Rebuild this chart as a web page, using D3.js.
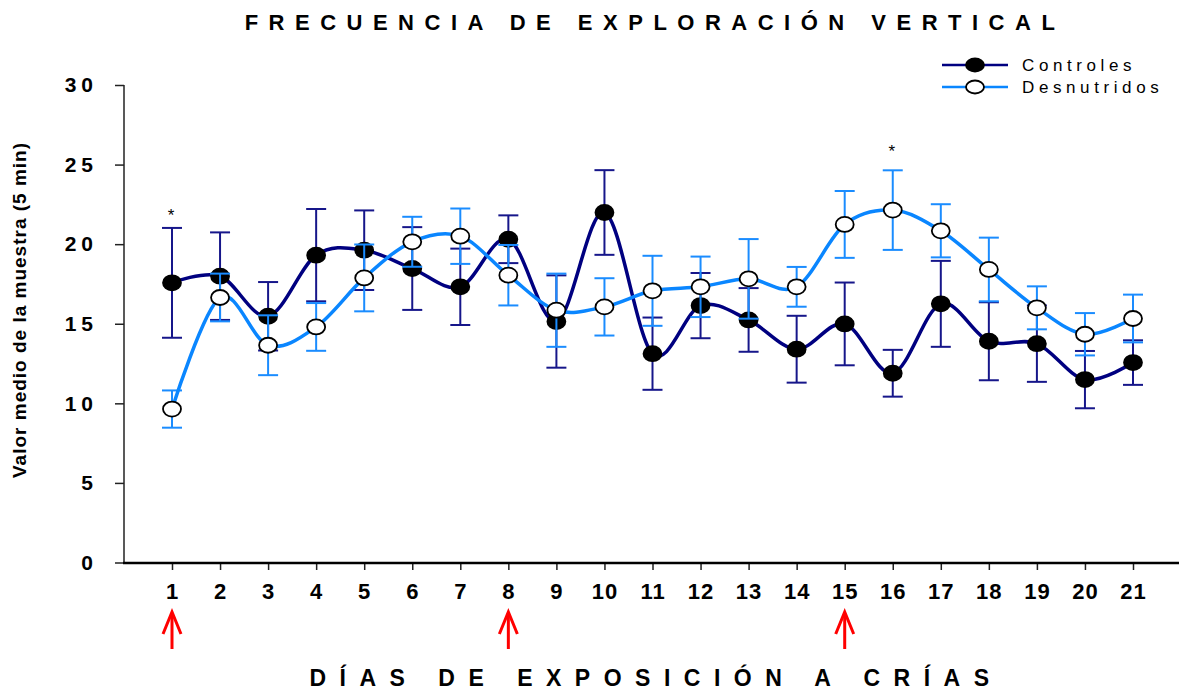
<!DOCTYPE html>
<html lang="es">
<head>
<meta charset="utf-8">
<script src="https://cdn.jsdelivr.net/npm/d3@7"></script>
<style>
  body { margin: 0; background: #fff; }
  svg { display: block; font-family: Arial, "Liberation Sans", sans-serif; }
</style>
</head>
<body>
<svg id="chart"></svg>
<script>
  var width = 1179;
  var height = 692;

  // datos
  var dias = [1, 2, 3, 4, 5, 6, 7, 8, 9, 10, 11, 12, 13, 14, 15, 16, 17, 18, 19, 20, 21];
  var controles = [17.57, 17.99, 15.47, 19.31, 19.62, 18.47, 17.32, 20.31, 15.14, 21.99, 13.12,
                   16.14, 15.24, 13.40, 14.99, 11.89, 16.25, 13.90, 13.75, 11.49, 12.56];
  var controlesErr = [3.45, 2.75, 2.15, 2.9, 2.5, 2.6, 2.4, 1.5, 2.9, 2.66, 2.27,
                      2.05, 2.0, 2.1, 2.6, 1.47, 2.7, 2.45, 2.4, 1.8, 1.4];
  var desnutridos = [9.64, 16.65, 13.65, 14.80, 17.88, 20.15, 20.50, 18.05, 15.85, 16.06, 17.07,
                     17.32, 17.82, 17.32, 21.24, 22.14, 20.84, 18.41, 16.00, 14.34, 15.33];
  var desnutridosErr = [1.17, 1.5, 1.88, 1.5, 2.1, 1.57, 1.74, 1.9, 2.3, 1.8, 2.2,
                        1.9, 2.5, 1.25, 2.1, 2.5, 1.67, 2.0, 1.35, 1.33, 1.5];
  var yTicks = [0, 5, 10, 15, 20, 25, 30];
  var flechas = [1, 8, 15];
  var asteriscos = [1, 16];
  var asteriscoY = [22.1, 26.1];

  var svg = d3.select('#chart').attr('width', width).attr('height', height);

  var x = d3.scaleLinear().domain([1, 21]).range([172, 1133]);
  var y = d3.scaleLinear().domain([0, 30]).range([562.5, 85]);

  // titulo
  svg.append('text')
    .attr('x', 655).attr('y', 30)
    .attr('text-anchor', 'middle')
    .style('font-size', '22px').style('font-weight', 'bold')
    .style('letter-spacing', '10.5px')
    .text('FRECUENCIA DE EXPLORACIÓN VERTICAL');

  // ejes
  var yAxis = svg.append('g')
    .attr('transform', 'translate(124,0)')
    .call(d3.axisLeft(y).tickValues(yTicks).tickSize(9).tickPadding(17).tickSizeOuter(0));
  yAxis.select('.domain').remove();
  yAxis.selectAll('.tick line').attr('stroke', '#222').attr('stroke-width', 1.5);
  yAxis.selectAll('.tick text')
    .style('font-size', '21px').style('font-weight', 'bold').style('letter-spacing', '5px')
    .attr('fill', '#000');
  svg.append('line')
    .attr('x1', 124).attr('x2', 124).attr('y1', 85).attr('y2', 563)
    .attr('stroke', '#222').attr('stroke-width', 1.5);

  var xAxis = svg.append('g')
    .attr('transform', 'translate(0,563)')
    .call(d3.axisBottom(x).tickValues(dias).tickFormat(d3.format('d')).tickSize(7).tickPadding(13).tickSizeOuter(0));
  xAxis.select('.domain').remove();
  xAxis.selectAll('.tick line').attr('stroke', '#222').attr('stroke-width', 1.5);
  xAxis.selectAll('.tick text')
    .style('font-size', '22px').style('font-weight', 'bold').style('letter-spacing', '1px')
    .attr('fill', '#000');
  svg.append('line')
    .attr('x1', 123).attr('x2', width).attr('y1', 563).attr('y2', 563)
    .attr('stroke', '#000').attr('stroke-width', 2.5);

  svg.append('text')
    .attr('transform', 'translate(26,310) rotate(-90)')
    .attr('text-anchor', 'middle')
    .style('font-size', '19px').style('font-weight', 'bold').style('letter-spacing', '1px')
    .text('Valor medio de la muestra (5 min)');

  svg.append('text')
    .attr('x', 656).attr('y', 686)
    .attr('text-anchor', 'middle')
    .style('font-size', '23px').style('font-weight', 'bold')
    .style('letter-spacing', '13.5px')
    .text('DÍAS DE EXPOSICIÓN A CRÍAS');

  // flechas rojas
  var fl = svg.append('g').selectAll('g').data(flechas).enter().append('g')
    .attr('transform', function(d) { return 'translate(' + x(d) + ',0)'; });
  fl.append('line').attr('x1', 0).attr('x2', 0).attr('y1', 614).attr('y2', 649)
    .attr('stroke', '#ff0000').attr('stroke-width', 3);
  fl.append('path').attr('d', 'M-9,634 L0,612 L9,634')
    .attr('fill', 'none').attr('stroke', '#ff0000').attr('stroke-width', 3);

  // asteriscos
  svg.append('g').selectAll('text').data(asteriscos).enter().append('text')
    .attr('x', function(d) { return x(d) - 1; })
    .attr('y', function(d, i) { return y(asteriscoY[i]) + 10; })
    .attr('text-anchor', 'middle')
    .style('font-size', '17px')
    .text('*');

  var curva = d3.curveCardinal.tension(0);

  function serie(vals, errs, lineColor, barColor, fill) {
    var g = svg.append('g');
    var pts = dias.map(function(d, i) { return { d: d, v: vals[i], e: errs[i] }; });

    var eb = g.selectAll('g.eb').data(pts).enter().append('g')
      .attr('stroke', barColor).attr('stroke-width', 2);
    eb.append('line')
      .attr('x1', function(p) { return x(p.d); }).attr('x2', function(p) { return x(p.d); })
      .attr('y1', function(p) { return y(p.v + p.e); }).attr('y2', function(p) { return y(p.v - p.e); });
    eb.append('line')
      .attr('x1', function(p) { return x(p.d) - 10; }).attr('x2', function(p) { return x(p.d) + 10; })
      .attr('y1', function(p) { return y(p.v + p.e); }).attr('y2', function(p) { return y(p.v + p.e); });
    eb.append('line')
      .attr('x1', function(p) { return x(p.d) - 10; }).attr('x2', function(p) { return x(p.d) + 10; })
      .attr('y1', function(p) { return y(p.v - p.e); }).attr('y2', function(p) { return y(p.v - p.e); });

    g.append('path').datum(pts)
      .attr('fill', 'none').attr('stroke', lineColor).attr('stroke-width', 3.5)
      .attr('d', d3.line().curve(curva)
        .x(function(p) { return x(p.d); })
        .y(function(p) { return y(p.v); }));

    g.selectAll('ellipse').data(pts).enter().append('ellipse')
      .attr('cx', function(p) { return x(p.d); })
      .attr('cy', function(p) { return y(p.v); })
      .attr('rx', 9).attr('ry', 7.5)
      .attr('fill', fill).attr('stroke', '#000').attr('stroke-width', 1.8);
  }

  serie(controles, controlesErr, '#000080', '#16168a', '#000');
  serie(desnutridos, desnutridosErr, '#0a86ff', '#1a8cff', '#fff');

  // leyenda
  var leyenda = [
    { nombre: 'Controles', color: '#000080', fill: '#000' },
    { nombre: 'Desnutridos', color: '#0a86ff', fill: '#fff' }
  ];
  var lg = svg.append('g').selectAll('g').data(leyenda).enter().append('g')
    .attr('transform', function(d, i) { return 'translate(0,' + (65 + i * 22) + ')'; });
  lg.append('line').attr('x1', 942).attr('x2', 1008).attr('y1', 0).attr('y2', 0)
    .attr('stroke', function(d) { return d.color; }).attr('stroke-width', 2.5);
  lg.append('ellipse').attr('cx', 975).attr('cy', 0).attr('rx', 9).attr('ry', 6.5)
    .attr('fill', function(d) { return d.fill; }).attr('stroke', '#000').attr('stroke-width', 1.8);
  lg.append('text').attr('x', 1022).attr('y', 6)
    .style('font-size', '17px').style('letter-spacing', '4.6px')
    .text(function(d) { return d.nombre; });
</script>
</body>
</html>
